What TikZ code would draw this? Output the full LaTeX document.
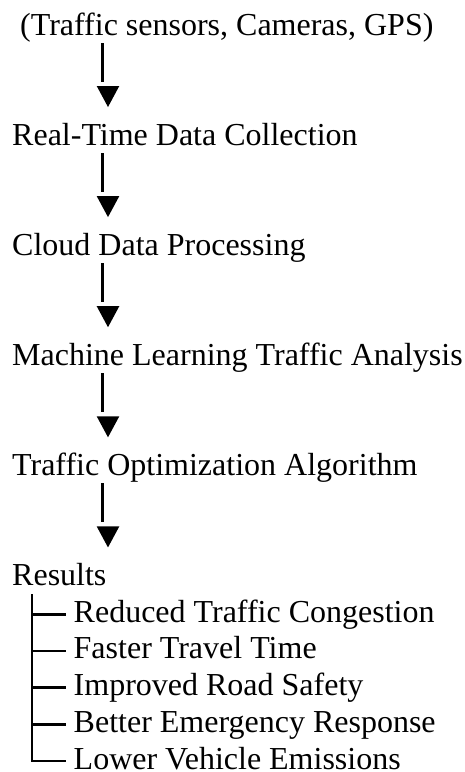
\documentclass[tikz,border=0pt]{standalone}
\usepackage{fontspec}
\setmainfont{Liberation Serif}
\usetikzlibrary{calc}
\begin{document}
\begin{tikzpicture}[x=1pt,y=1pt,
  lbl/.style={anchor=base west, inner sep=0pt, font=\fontsize{32}{36.7}\selectfont},
  stem/.style={line width=2.7pt},
  head/.style={fill=black},
  treeline/.style={line width=2.7pt, line cap=rect}]
\useasboundingbox (0,0) rectangle (465,-772);
\node[lbl] (src) at (20,-35) {(Traffic sensors, Cameras, GPS)};
\node[lbl] (rt)  at (12,-145.1) {Real-Time Data Collection};
\node[lbl] (cl)  at (12,-255.2) {Cloud Data Processing};
\node[lbl] (ml)  at (12,-365.3) {Machine Learning Traffic Analysis};
\node[lbl] (to)  at (12,-475.4) {Traffic Optimization Algorithm};
\node[lbl] (res) at (12,-585.5) {Results};
\node[lbl] (i1)  at (73.5,-622.2) {Reduced Traffic Congestion};
\node[lbl] (i2)  at (73.5,-658.9) {Faster Travel Time};
\node[lbl] (i3)  at (73.5,-695.6) {Improved Road Safety};
\node[lbl] (i4)  at (73.5,-732.3) {Better Emergency Response};
\node[lbl] (i5)  at (73.5,-769) {Lower Vehicle Emissions};
\coordinate (ax) at (102.7,0);
\coordinate (tx) at (108,0);
\coordinate (trunk) at (32,0);
\foreach \a/\b in {src/rt, rt/cl, cl/ml, ml/to, to/res}{
  \draw[stem] ($(\a.base -| ax)+(0,-8)$) -- ($(\a.base -| ax)+(0,-47)$);
  \fill[head] ($(\a.base -| tx)+(-11.3,-51)$) -- ($(\a.base -| tx)+(11.3,-51)$) -- ($(\b.base -| tx)+(0,38.1)$) -- cycle;
}
\draw[treeline] ($(res.base -| trunk)+(0,-9.5)$) |- ($(i5.base west)+(-8.5,8)$);
\foreach \i in {i1,i2,i3,i4}{
  \draw[treeline] ($(\i.base -| trunk)+(0,8)$) -- ($(\i.base west)+(-8.5,8)$);
}
\end{tikzpicture}
\end{document}
